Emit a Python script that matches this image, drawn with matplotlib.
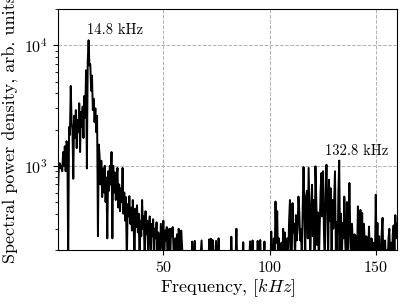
import numpy as np
import matplotlib
matplotlib.use("Agg")
import matplotlib.pyplot as plt

plt.rcParams['font.family'] = ['cmr10', 'DejaVu Serif']
plt.rcParams['mathtext.fontset'] = 'cm'
plt.rcParams['axes.formatter.use_mathtext'] = True
plt.rcParams['axes.unicode_minus'] = False

# Frequency bins (kHz), 0.4 kHz resolution
freq_step = 0.4
n_bins = 400

# Spectral power density, segments of 20 kHz each
psd_0_20 = [600, 1000, 1050, 950, 1000, 900, 1300, 1000, 1450, 900,
            1600, 1500, 150, 2100, 1800, 4600, 2300, 2000, 780, 2600,
            1700, 2900, 1400, 2400, 1900, 3300, 1300, 2800, 2100, 3100,
            1700, 3800, 2500, 6200, 950, 7400, 11000, 6800, 7000, 4200,
            5600, 2900, 3600, 2300, 3000, 1900, 2600, 260, 1500, 1200]
psd_20_40 = [700, 1100, 550, 950, 600, 1000, 500, 800, 250, 900,
             620, 1000, 700, 1300, 250, 1000, 600, 880, 520, 750,
             960, 450, 700, 420, 650, 500, 960, 400, 600, 350,
             550, 150, 480, 380, 560, 330, 450, 290, 520, 360,
             150, 440, 310, 470, 280, 400, 150, 350, 260, 520]
psd_40_60 = [300, 380, 150, 420, 270, 350, 200, 310, 380, 150,
             330, 260, 360, 150, 300, 250, 340, 180, 280, 240,
             150, 330, 260, 200, 350, 150, 290, 240, 310, 150,
             280, 300, 150, 300, 260, 310, 200, 150, 250, 150,
             270, 150, 300, 250, 150, 290, 220, 150, 160, 150]
psd_60_80 = [150, 170, 140, 190, 150, 130, 160, 150, 235, 150,
             170, 238, 140, 180, 150, 160, 130, 150, 190, 240,
             150, 170, 140, 160, 150, 190, 140, 150, 245, 150,
             248, 160, 242, 150, 140, 180, 238, 150, 160, 250,
             150, 170, 140, 160, 150, 190, 140, 150, 170, 150]
psd_80_100 = [170, 150, 190, 150, 258, 160, 140, 190, 150, 170,
              300, 150, 180, 140, 190, 150, 170, 130, 232, 150,
              190, 140, 160, 150, 195, 150, 236, 140, 160, 240,
              150, 180, 140, 160, 150, 238, 170, 140, 242, 150,
              195, 150, 170, 235, 150, 160, 140, 190, 150, 170]
psd_100_120 = [150, 285, 170, 150, 250, 160, 505, 230, 420, 150,
               250, 170, 150, 230, 160, 300, 150, 280, 200, 150,
               250, 170, 350, 520, 200, 150, 490, 280, 330, 160,
               390, 240, 300, 555, 420, 240, 300, 150, 450, 975,
               400, 200, 560, 620, 250, 960, 400, 150, 470, 695]
psd_120_140 = [260, 520, 150, 990, 530, 220, 410, 150, 300, 600,
               870, 380, 900, 280, 150, 600, 1020, 450, 170, 765,
               350, 650, 150, 520, 300, 500, 900, 200, 340, 150,
               600, 1105, 200, 400, 150, 335, 250, 555, 240, 150,
               500, 160, 300, 720, 280, 150, 330, 230, 160, 270]
psd_140_160 = [150, 260, 180, 460, 150, 280, 430, 200, 405, 150,
               330, 240, 150, 260, 170, 150, 313, 200, 150, 250,
               160, 150, 230, 150, 575, 200, 335, 150, 260, 170,
               150, 280, 370, 160, 150, 240, 150, 200, 150, 250,
               300, 150, 230, 150, 270, 320, 200, 390, 250, 330]

psd = np.array(psd_0_20 + psd_20_40 + psd_40_60 + psd_60_80 +
               psd_80_100 + psd_100_120 + psd_120_140 + psd_140_160, dtype=float)
freq = freq_step * np.arange(1, n_bins + 1)

peak_labels = ["14.8 kHz", "132.8 kHz"]
peak_label_pos = [(14.0, 12300), (126.3, 1240)]

x_ticks = [50, 100, 150]

fig = plt.figure(figsize=(4.07, 3.05), dpi=100)
ax = fig.add_axes([58/407, 1 - 250/305, (397 - 58)/407, (250 - 9)/305])

ax.plot(freq, psd, color='black', linewidth=1.4)
ax.set_yscale('log')
ax.set_xlim(0.4, 160)
ax.set_ylim(200, 2e4)
ax.set_xticks(x_ticks)
ax.grid(True, which='major', linestyle='--', color='#b0b0b0', linewidth=0.7)

for txt, (xx, yy) in zip(peak_labels, peak_label_pos):
    ax.text(xx, yy, txt, fontsize=10.5, ha='left', va='baseline')

ax.set_xlabel(r'Frequency, $[kHz]$', fontsize=13, labelpad=2)
ax.set_ylabel('Spectral power density, arb. units', fontsize=13, labelpad=4)
ax.tick_params(labelsize=11.5)

fig.savefig('out.png', dpi=100)
